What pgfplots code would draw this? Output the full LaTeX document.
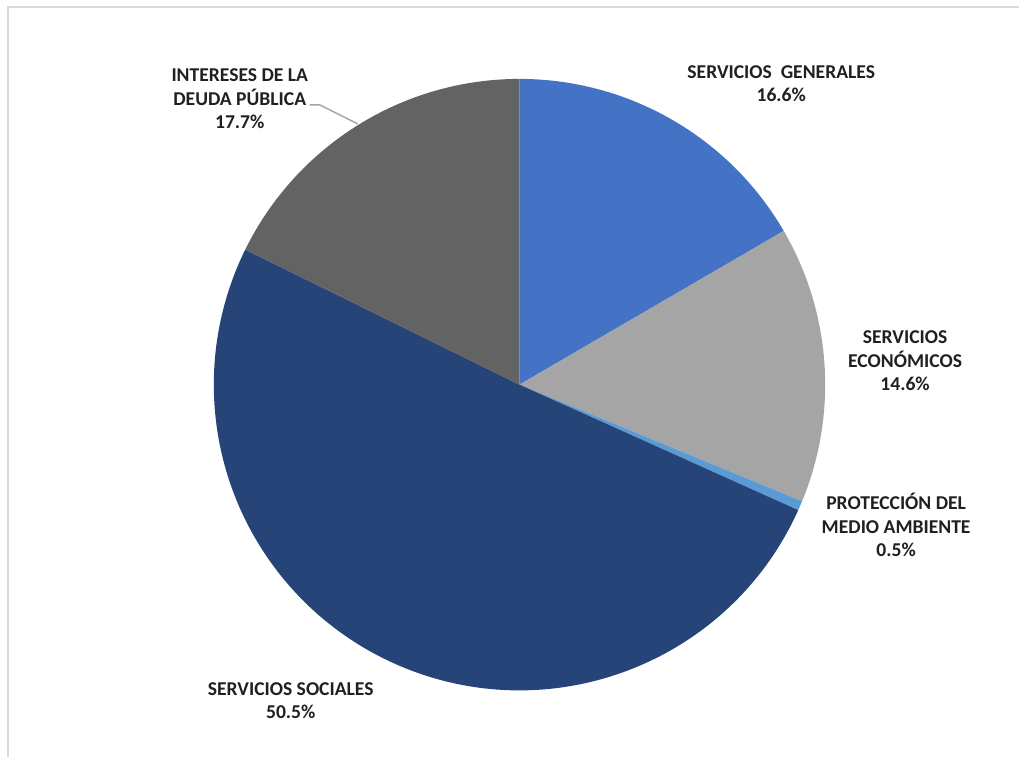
\documentclass[border=0pt]{standalone}
\usepackage{pgfplots}
\usepackage{pgfplotstable}
\pgfplotsset{compat=1.18}
\usepackage{fontspec}
\setmainfont{Carlito}

\definecolor{slice0}{HTML}{4472C4}
\definecolor{slice1}{HTML}{A5A5A5}
\definecolor{slice2}{HTML}{5B9BD5}
\definecolor{slice3}{HTML}{264478}
\definecolor{slice4}{HTML}{636363}
\definecolor{lbl}{HTML}{202020}
\definecolor{frame}{HTML}{D9D9D9}

% shares of the budget, clockwise from 12 o'clock
\pgfplotstableread{
name value
SG   16.6
SE   14.6
PMA  0.5
SS   50.5
IDP  17.7
}\piedata

% label: x, y (image px from top), lines
\newcommand\lbl[3]{%
  \node[anchor=base, inner sep=0pt, text=lbl,
        font=\fontsize{14.7bp}{17.7bp}\selectfont\bfseries]
    at (axis cs:#1,{758-#2})
    {\begin{tabular}[t]{@{}c@{}}#3\end{tabular}};}

\begin{document}
\begin{tikzpicture}
\begin{axis}[
    scale only axis,
    width=765bp, height=568.5bp,
    xmin=0, xmax=1020, ymin=0, ymax=758,
    hide axis,
    clip=false,
    ]
    \path (axis cs:0,0) rectangle (axis cs:1020,758);
    % frame (only top and left edge show)
    \draw[frame, line width=1.5bp] (axis cs:8,0) -- (axis cs:8,750.5) -- (axis cs:1020,750.5);

    \pgfplotstablegetrowsof{\piedata}
    \pgfmathtruncatemacro\nrows{\pgfplotsretval-1}
    \def\total{0}
    \pgfplotsforeachungrouped \i in {0,...,\nrows}{%
        \pgfplotstablegetelem{\i}{value}\of\piedata
        \pgfmathsetmacro\total{\total+\pgfplotsretval}%
    }
    \def\cum{0}
    \pgfplotsforeachungrouped \i in {0,...,\nrows}{%
        \pgfplotstablegetelem{\i}{value}\of\piedata
        \let\val\pgfplotsretval
        \pgfmathsetmacro\a{90-\cum/\total*360}%
        \pgfmathsetmacro\cum{\cum+\val}%
        \pgfmathsetmacro\b{90-\cum/\total*360}%
        \edef\temp{\noexpand\fill[slice\i] (axis cs:520,373) -- ++(\a:229.5bp)
            arc[start angle=\a, end angle=\b, radius=229.5bp] -- cycle;}%
        \temp
    }

    % leader line for the top-left label
    \draw[color=slice1, line width=1.1bp] (axis cs:310,653) -- (axis cs:320,653) -- (axis cs:358,634);

    \lbl{240}{81.7}{INTERESES DE LA\\DEUDA PÚBLICA\\17.7\%}
    \lbl{782}{78.3}{SERVICIOS\ \ GENERALES\\16.6\%}
    \lbl{906}{344}{SERVICIOS\\ECONÓMICOS\\14.6\%}
    \lbl{897}{510}{PROTECCIÓN DEL\\MEDIO AMBIENTE\\0.5\%}
    \lbl{291}{696}{SERVICIOS SOCIALES\\50.5\%}
\end{axis}
\end{tikzpicture}
\end{document}
